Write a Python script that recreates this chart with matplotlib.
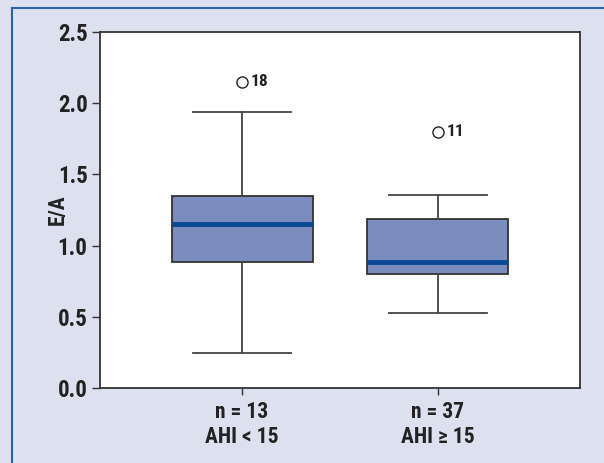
import matplotlib.pyplot as plt
from matplotlib.lines import Line2D
from matplotlib import font_manager

# values (E/A ratio)
groups = ["n = 13\nAHI < 15", "n = 37\nAHI \u2265 15"]
medians = [1.15, 0.885]
q1 = [0.885, 0.80]
q3 = [1.35, 1.19]
whisker_low = [0.245, 0.525]
whisker_high = [1.935, 1.355]
outliers = [[2.15], [1.80]]
outlier_labels = ["18", "11"]

names = {f.name for f in font_manager.fontManager.ttflist}
fam = [f for f in ["Liberation Sans Narrow", "Roboto Condensed", "Liberation Sans", "DejaVu Sans"] if f in names]
plt.rcParams['font.family'] = fam

bg = "#dde0ef"
fig = plt.figure(figsize=(6.04, 4.63), dpi=100, facecolor=bg)
ax = fig.add_axes([100 / 604, 75 / 463, 480 / 604, 356 / 463])
ax.set_facecolor("white")

stats = []
for i in range(len(groups)):
    stats.append(dict(med=medians[i], q1=q1[i], q3=q3[i],
                      whislo=whisker_low[i], whishi=whisker_high[i],
                      fliers=outliers[i], label=groups[i]))

ax.bxp(stats, positions=[1, 2], widths=0.72, patch_artist=True,
       boxprops=dict(facecolor="#7b8cbe", edgecolor="#333333", linewidth=1.3),
       medianprops=dict(color="#0a4a94", linewidth=3.5),
       whiskerprops=dict(color="#444444", linewidth=1.3),
       capprops=dict(color="#444444", linewidth=1.3),
       capwidths=0.5,
       flierprops=dict(marker="o", markerfacecolor="white", markeredgecolor="#222222",
                       markersize=8, markeredgewidth=1.0))

for i, lab in enumerate(outlier_labels):
    ax.annotate(lab, (i + 1, outliers[i][0]), xytext=(6, 0), textcoords="offset points",
                va="center", ha="left", fontsize=12.5, fontweight="bold", color="#222222")

ax.set_xlim(0.275, 2.725)
ax.set_ylim(0, 2.5)
ax.set_yticks([0.0, 0.5, 1.0, 1.5, 2.0, 2.5])
ax.set_yticklabels(["0.0", "0.5", "1.0", "1.5", "2.0", "2.5"])
ax.tick_params(axis="y", direction="out", length=6, width=1, color="#333333",
               labelsize=16.5, pad=3)
ax.tick_params(axis="x", direction="out", length=5, width=1, color="#333333",
               labelsize=15.5, pad=4)
for lbl in ax.get_yticklabels() + ax.get_xticklabels():
    lbl.set_fontweight("bold")
    lbl.set_color("#222222")
ax.set_ylabel("E/A", fontsize=15.5, fontweight="bold", color="#222222")
ax.yaxis.set_label_coords(-0.066, 0.5)

for sp in ax.spines.values():
    sp.set_color("#333333")
    sp.set_linewidth(1.3)

# blue frame lines at top and left of the figure
fig.add_artist(Line2D([12 / 604, 1], [1 - 7.5 / 463, 1 - 7.5 / 463], color="#2a62b0", linewidth=1.5))
fig.add_artist(Line2D([12 / 604, 12 / 604], [0, 1 - 7.5 / 463], color="#2a62b0", linewidth=1.5))

fig.savefig("out.png", dpi=100, facecolor=bg)
